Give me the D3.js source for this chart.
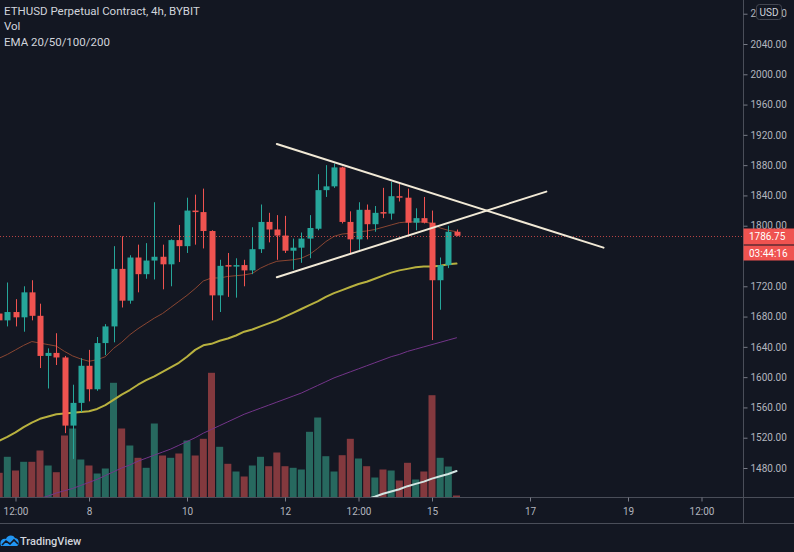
<!DOCTYPE html>
<html><head><meta charset="utf-8">
<script src="https://cdn.jsdelivr.net/npm/d3@7"></script>
<style>
html,body{margin:0;padding:0;background:#131722;overflow:hidden}
svg{display:block}
</style></head><body>
<svg id="chart" width="794" height="552"></svg>
<script>
// ---------------- data ----------------
const titleText = "ETHUSD Perpetual Contract, 4h, BYBIT";
const legendLines = ["Vol", "EMA 20/50/100/200"];
const firstBarUTC = Date.UTC(2021, 2, 6, 4); // 6th 04:00, 4h bars
const barHours = 4;

const opens  = [1684,1675,1686,1679,1712,1681,1628,1632,1626,1536,1566,1615,1584,1645,1667,1743,1701,1758,1736,1754,1759,1749,1781,1773,1820,1818,1793,1708,1748,1746,1748,1741,1769,1805,1795,1787,1767,1771,1783,1796,1847,1852,1877,1805,1782,1821,1802,1818,1816,1839,1837,1804,1810,1804,1728,1748,1792];
const highs  = [1690,1725,1703,1720,1728,1697,1638,1658,1628,1590,1625,1636,1653,1670,1773,1786,1761,1775,1777,1831,1775,1782,1801,1837,1841,1849,1794,1755,1764,1757,1755,1798,1828,1817,1814,1813,1783,1791,1814,1868,1880,1882,1878,1819,1831,1828,1826,1850,1858,1855,1849,1823,1838,1820,1758,1800,1795];
const lows   = [1670,1667,1667,1660,1675,1612,1585,1616,1526,1492,1554,1568,1582,1629,1646,1692,1697,1712,1730,1729,1716,1720,1752,1764,1775,1770,1675,1686,1706,1705,1720,1736,1764,1778,1755,1764,1742,1751,1757,1794,1838,1850,1803,1764,1768,1782,1792,1810,1808,1832,1788,1794,1803,1649,1689,1744,1786];
const closes = [1675,1686,1679,1712,1681,1628,1632,1626,1536,1566,1615,1584,1645,1667,1743,1701,1758,1736,1754,1759,1749,1781,1773,1820,1818,1793,1708,1747,1746,1748,1741,1769,1805,1795,1787,1767,1771,1783,1797,1847,1852,1877,1805,1782,1821,1802,1817,1816,1839,1837,1804,1810,1804,1728,1748,1792,1786.75];
const volumes = [24.2,40.2,26.5,35.2,35.2,46.5,31.5,24.8,61.5,68.5,37.5,31.5,23.5,28.5,114.2,68.5,51.5,39.2,29.2,73.5,41.5,39.2,43.5,56.5,41.5,58.2,124.2,50.2,33.2,25.5,20.5,31.5,40.2,30.8,44.5,30.8,29.2,27.5,65.2,79.5,40.8,25.5,41.8,58.2,38.5,30.8,19.5,27.5,26.5,16.5,34.2,17.5,25.5,101.8,39.2,30.5,1.5];

const ema20  = [1625,1630,1636,1642,1647,1645,1643,1641,1634,1628,1624,1621,1623,1627,1638,1646,1656,1664,1671,1678,1684,1692,1700,1708,1717,1727,1731,1731,1733,1734,1735,1737,1744,1749,1753,1754,1755,1757,1762,1770,1779,1786,1789,1790,1792,1793,1795,1798,1801,1804,1805,1805,1805,1803,1797,1794,1792];
const ema50  = [1516,1521,1527,1534,1540,1545,1548,1551,1552,1553,1554,1555,1558,1563,1570,1577,1583,1590,1596,1601,1607,1613,1619,1627,1636,1642,1644,1648,1651,1655,1660,1663,1667,1671,1675,1680,1685,1690,1695,1700,1706,1711,1715,1719,1723,1726,1730,1734,1738,1741,1743,1745,1746,1746,1747,1749,1750];
const ema100 = [null,null,null,null,1436,1440,1443,1447,1450,1453,1457,1461,1465,1470,1475,1480,1484,1489,1493,1497,1501,1505,1510,1515,1520,1526,1531,1536,1541,1546,1551,1555,1559,1563,1567,1571,1575,1579,1584,1589,1594,1599,1603,1607,1611,1615,1619,1623,1627,1630,1634,1637,1640,1643,1646,1649,1652];
const ema200 = [null,null,null,null,null,null,null,null,null,null,null,null,null,null,null,null,null,null,null,null,null,null,null,null,null,null,null,null,null,null,null,null,null,null,null,null,null,null,null,null,null,null,null,null,1436,1439,1442,1446,1449,1452,1456,1459,1462,1466,1469,1472,1476];

// 1760.00 sits fully under the countdown box in the reference, so it is not listed
const priceTicks = [1480,1520,1560,1600,1640,1680,1720,1800,1840,1880,1920,1960,2000,2040,2080];
const timeTickDates  = ["2021-03-06T12:00Z","2021-03-08T00:00Z","2021-03-10T00:00Z","2021-03-12T00:00Z","2021-03-13T12:00Z","2021-03-15T00:00Z","2021-03-17T00:00Z","2021-03-19T00:00Z","2021-03-20T12:00Z"];
const timeTickLabels = ["12:00","8","10","12","12:00","15","17","19","12:00"];

const upperTrend = [["2021-03-11T20:00Z",1908],["2021-03-18T12:00Z",1771]];
const lowerTrend = [["2021-03-11T20:00Z",1732],["2021-03-17T08:00Z",1845]];

const lastPrice = 1786.75;
const countdownText = "03:44:16";
const currencyText = "USD";

// ---------------- drawing ----------------
const W = 794, H = 552;
const paneRight = 743, paneBottom = 497.5, footerLine = 523.5;
const BG = "#131722", UP = "#26a69a", DOWN = "#ef5350";
const UPV = "#27695f", DOWNV = "#83393e";
const TXT = "#b2b5be", LINE = "#4a4e59";
const FONT = "Roboto, 'Noto Sans', sans-serif";

const bars = opens.map((o, i) => ({
  t: new Date(firstBarUTC + i * barHours * 3600e3),
  o, h: highs[i], l: lows[i], c: closes[i], v: volumes[i],
  e20: ema20[i], e50: ema50[i], e100: ema100[i], e200: ema200[i]
}));

const x = d3.scaleUtc()
  .domain([new Date(Date.UTC(2021,2,8)), new Date(Date.UTC(2021,2,10))])
  .range([89, 187]);
const y = d3.scaleLinear().domain([1480, 2040]).range([468, 44]);
const yv = d3.scaleLinear().domain([0, 200]).range([paneBottom - 0.5, paneBottom - 200.5]);

const svg = d3.select("#chart");
svg.append("rect").attr("width", W).attr("height", H).attr("fill", BG);

const defs = svg.append("defs");
defs.append("clipPath").attr("id", "pane")
  .append("rect").attr("x", 0).attr("y", 0).attr("width", paneRight).attr("height", paneBottom);
defs.append("clipPath").attr("id", "axisclip")
  .append("path").attr("d", `M${paneRight},0 H${W} V${H} H${paneRight} Z M756,4 V20 H782 V4 Z`)
  .attr("clip-rule", "evenodd");

const pane = svg.append("g").attr("clip-path", "url(#pane)");

// volume
const vw = 7;
pane.append("g").selectAll("rect").data(bars).join("rect")
  .attr("x", d => x(d.t) - vw / 2)
  .attr("y", d => yv(d.v))
  .attr("width", vw)
  .attr("height", d => yv(0) - yv(d.v))
  .attr("fill", d => d.c >= d.o ? UPV : DOWNV);

// EMAs
function emaLine(key, color, width) {
  const gen = d3.line().defined(d => d[key] != null).x(d => x(d.t)).y(d => y(d[key]));
  pane.append("path").datum(bars).attr("d", gen)
    .attr("fill", "none").attr("stroke", color).attr("stroke-width", width)
    .attr("stroke-linejoin", "round").attr("stroke-linecap", "round");
}
emaLine("e200", "#d3e5e2", 2);
emaLine("e100", "#74358a", 1);
emaLine("e50", "#b8b13f", 2);
emaLine("e20", "#8a4632", 1);

// candles
const cg = pane.append("g");
const bw = 6;
cg.selectAll("line").data(bars).join("line")
  .attr("x1", d => Math.round(x(d.t)) + 0.5).attr("x2", d => Math.round(x(d.t)) + 0.5)
  .attr("y1", d => y(d.h)).attr("y2", d => y(d.l))
  .attr("stroke", d => d.c >= d.o ? UP : DOWN).attr("stroke-width", 1);
cg.selectAll("rect").data(bars).join("rect")
  .attr("x", d => Math.round(x(d.t)) + 0.5 - bw / 2)
  .attr("y", d => y(Math.max(d.o, d.c)))
  .attr("width", bw)
  .attr("height", d => Math.max(1, Math.abs(y(d.o) - y(d.c))))
  .attr("fill", d => d.c >= d.o ? UP : DOWN);

// last price dotted line
pane.append("line")
  .attr("x1", 0).attr("x2", paneRight)
  .attr("y1", Math.round(y(lastPrice)) + 0.5).attr("y2", Math.round(y(lastPrice)) + 0.5)
  .attr("stroke", DOWN).attr("stroke-opacity", 0.75).attr("stroke-width", 1)
  .attr("stroke-dasharray", "1,2");

// trend lines
[upperTrend, lowerTrend].forEach(tl => {
  pane.append("line")
    .attr("x1", x(new Date(tl[0][0]))).attr("y1", y(tl[0][1]))
    .attr("x2", x(new Date(tl[1][0]))).attr("y2", y(tl[1][1]))
    .attr("stroke", "#f1e9d6").attr("stroke-width", 2).attr("stroke-linecap", "round");
});

// frame lines
svg.append("line").attr("x1", paneRight + 0.5).attr("x2", paneRight + 0.5).attr("y1", 0).attr("y2", footerLine)
  .attr("stroke", LINE);
svg.append("line").attr("x1", 0).attr("x2", W).attr("y1", paneBottom).attr("y2", paneBottom).attr("stroke", LINE);
svg.append("line").attr("x1", 0).attr("x2", W).attr("y1", footerLine).attr("y2", footerLine).attr("stroke", LINE);

// price axis (clipped so the currency badge hides the middle of the top label)
const ya = svg.append("g").attr("clip-path", "url(#axisclip)")
  .append("g").attr("transform", `translate(${paneRight + 0.5},0)`)
  .call(d3.axisRight(y).tickValues(priceTicks).tickFormat(d3.format(".2f")).tickSize(4).tickPadding(3));
ya.select(".domain").remove();
ya.selectAll(".tick line").attr("stroke", "#787b86");
ya.selectAll("text").attr("fill", TXT).style("font-family", FONT).style("font-size", "10px");

// time axis
const xa = svg.append("g").attr("transform", `translate(0,${paneBottom})`)
  .call(d3.axisBottom(x).tickValues(timeTickDates.map(s => new Date(s)))
    .tickFormat((d, i) => timeTickLabels[i]).tickSize(4).tickPadding(6));
xa.select(".domain").remove();
xa.selectAll(".tick line").attr("stroke", "#787b86");
xa.selectAll("text").attr("fill", TXT).style("font-family", FONT).style("font-size", "10px");

// last price labels
svg.append("rect").attr("x", paneRight + 0.5).attr("y", 228.5).attr("width", W - paneRight).attr("height", 16)
  .attr("fill", DOWN);
svg.append("rect").attr("x", paneRight + 0.5).attr("y", 245.5).attr("width", W - paneRight).attr("height", 15)
  .attr("fill", DOWN);
svg.append("text").attr("x", 749).attr("y", 240.3).text(d3.format(".2f")(lastPrice))
  .attr("fill", "#ffffff").style("font-family", FONT).style("font-size", "10px");
svg.append("text").attr("x", 749).attr("y", 256.8).text(countdownText)
  .attr("fill", "#ffffff").style("font-family", FONT).style("font-size", "10px");

// currency box
svg.append("rect").attr("x", 756.5).attr("y", 4.5).attr("width", 25).attr("height", 15).attr("rx", 3)
  .attr("fill", BG).attr("stroke", "#434651");
svg.append("text").attr("x", 769).attr("y", 15.5).attr("text-anchor", "middle").text(currencyText)
  .attr("fill", "#d1d4dc").style("font-family", FONT).style("font-size", "10px");

// legend
const legend = svg.append("g").style("font-family", FONT).style("font-size", "11.5px").attr("fill", "#d1d4dc");
legend.append("text").attr("x", 4).attr("y", 14.5).text(titleText);
legendLines.forEach((s, i) => legend.append("text").attr("x", 4).attr("y", 30 + i * 15.5).text(s));

// footer logo
const logo = svg.append("g").attr("transform", "translate(0,533)");
logo.append("path")
  .attr("d", "M1,13 C-1,9 2,5 6,6 C7,2 13,1 15,5 C19,5 20,11 17,13 Z")
  .attr("fill", "#2196f3");
logo.append("polyline").attr("points", "2,12 6,8 10,11 14,7 18,11")
  .attr("fill", "none").attr("stroke", BG).attr("stroke-width", 1.6);
svg.append("text").attr("x", 20).attr("y", 544.5).text("TradingView")
  .attr("fill", "#d1d4dc").style("font-family", FONT).style("font-size", "11px").style("font-weight", 500);
</script>
</body></html>
